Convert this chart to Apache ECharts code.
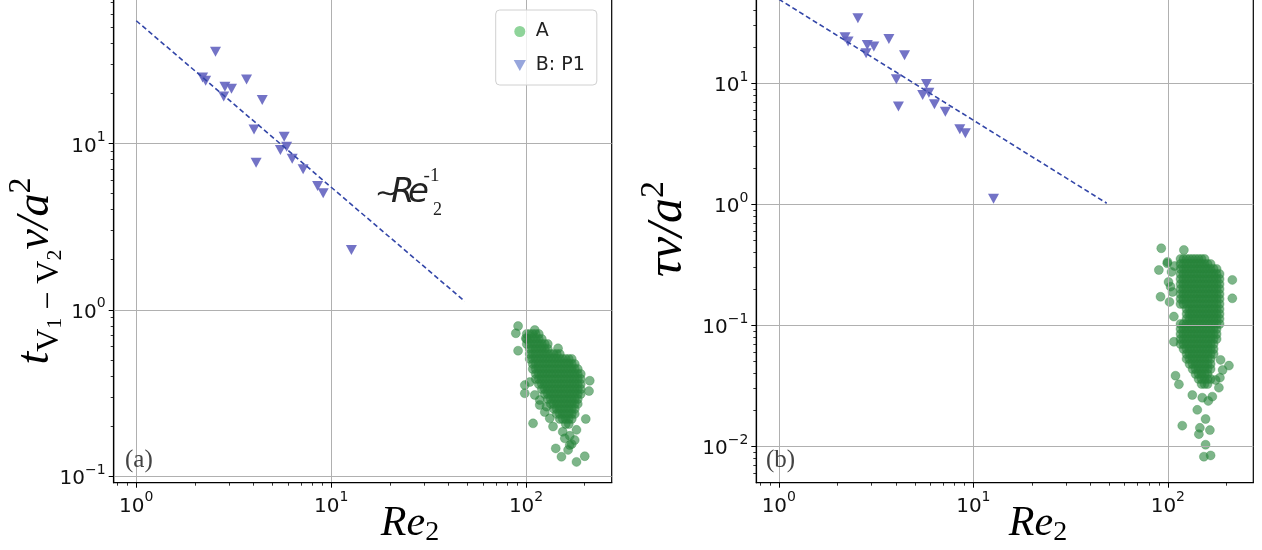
<!DOCTYPE html>
<html>
<head>
<meta charset="utf-8">
<script src="https://cdn.jsdelivr.net/npm/echarts@6/dist/echarts.min.js"></script>
<style>
  html, body { margin: 0; padding: 0; background: #fff; }
  #chart { width: 1262px; height: 550px; }
</style>
</head>
<body>
<div id="chart"></div>
<script>
// axis ranges (log axes) and tick positions
var xRange = [0.766, 275];
var yRangeA = [0.0915, 75.7];
var yRangeB = [0.005, 51.6];
var xMajor = [1, 10, 100];
var xMinor = [0.8, 0.9, 2, 3, 4, 5, 6, 7, 8, 9, 20, 30, 40, 50, 60, 70, 80, 90, 200];
var yMajorA = [0.1, 1, 10];
var yMinorA = [0.2, 0.3, 0.4, 0.5, 0.6, 0.7, 0.8, 0.9, 2, 3, 4, 5, 6, 7, 8, 9, 20, 30, 40, 50, 60, 70];
var yMajorB = [0.01, 0.1, 1, 10];
var yMinorB = [0.006, 0.007, 0.008, 0.009, 0.02, 0.03, 0.04, 0.05, 0.06, 0.07, 0.08, 0.09,
  0.2, 0.3, 0.4, 0.5, 0.6, 0.7, 0.8, 0.9, 2, 3, 4, 5, 6, 7, 8, 9, 20, 30, 40, 50];

// B: P1 (triangles), same Re2 in both panels
var bRe = [2.55, 2.19, 2.27, 2.85, 3.08, 2.81, 3.68, 4.43, 4.02, 5.74, 5.91, 5.49, 4.12, 6.31, 7.18, 8.52, 9.10, 12.7];
var bLeft = [35.5, 24.9, 23.8, 21.9, 21.3, 19.1, 24.2, 18.2, 12.1, 10.96, 9.55, 9.12, 7.64, 8.08, 6.98, 5.54, 5.01, 2.29];
var bRight = [34.4, 24.0, 22.1, 20.7, 20.1, 17.7, 23.2, 17.0, 10.8, 9.87, 8.36, 8.0, 6.41, 6.70, 5.82, 4.17, 3.86, 1.11];

// ~Re^-1 guide lines
var fitRe = [1, 48.5];
var fitLeft = [54.5, 1.124];
var fitRight = [49.5, 1.02];

// A, left panel: dense part read row by row as [y, [Re2 values]]
var aLeftRows = [
  [0.716, [100.8, 104.4, 108.2, 112.1, 116.2]],
  [0.668, [100.8, 104.4, 108.2, 112.1, 116.2, 120.4]],
  [0.623, [100.8, 104.4, 108.2, 112.1, 116.2, 120.4, 124.7]],
  [0.582, [104.4, 108.2, 112.1, 116.2, 120.4, 124.7, 129.2]],
  [0.543, [104.4, 108.2, 112.1, 116.2, 120.4, 124.7, 129.2, 133.9, 138.7, 143.7, 148.9]],
  [0.507, [104.4, 108.2, 112.1, 116.2, 120.4, 124.7, 129.2, 133.9, 138.7, 143.7, 148.9, 154.2, 159.8, 165.6, 171.5]],
  [0.473, [108.2, 112.1, 116.2, 120.4, 124.7, 129.2, 133.9, 138.7, 143.7, 148.9, 154.2, 159.8, 165.6, 171.5, 177.7]],
  [0.441, [108.2, 112.1, 116.2, 120.4, 124.7, 129.2, 133.9, 138.7, 143.7, 148.9, 154.2, 159.8, 165.6, 171.5, 177.7, 184.1]],
  [0.412, [112.1, 116.2, 120.4, 124.7, 129.2, 133.9, 138.7, 143.7, 148.9, 154.2, 159.8, 165.6, 171.5, 177.7, 184.1, 190.8]],
  [0.384, [112.1, 116.2, 120.4, 124.7, 129.2, 133.9, 138.7, 143.7, 148.9, 154.2, 159.8, 165.6, 171.5, 177.7, 184.1, 190.8]],
  [0.358, [116.2, 120.4, 124.7, 129.2, 133.9, 138.7, 143.7, 148.9, 154.2, 159.8, 165.6, 171.5, 177.7, 184.1, 190.8]],
  [0.334, [120.4, 124.7, 129.2, 133.9, 138.7, 143.7, 148.9, 154.2, 159.8, 165.6, 171.5, 177.7, 184.1, 190.8]],
  [0.312, [124.7, 129.2, 133.9, 138.7, 143.7, 148.9, 154.2, 159.8, 165.6, 171.5, 177.7, 184.1, 190.8]],
  [0.291, [129.2, 133.9, 138.7, 143.7, 148.9, 154.2, 159.8, 165.6, 171.5, 177.7, 184.1]],
  [0.272, [133.9, 138.7, 143.7, 148.9, 154.2, 159.8, 165.6, 171.5, 177.7, 184.1]],
  [0.254, [138.7, 143.7, 148.9, 154.2, 159.8, 165.6, 171.5, 177.7]],
  [0.237, [143.7, 148.9, 154.2, 159.8, 165.6, 171.5, 177.7]],
  [0.221, [148.9, 154.2, 159.8, 165.6, 171.5]],
  [0.206, [159.8, 165.6]]
];
// A, left panel: loose points round the edge [Re2, y]
var aLeftLoose = [
  [91.0, 0.799], [88.6, 0.723], [99.7, 0.674], [110.8, 0.756], [91.0, 0.568], [145.9, 0.587],
  [212.2, 0.375], [210.4, 0.325], [98.5, 0.353], [98.5, 0.315], [117.5, 0.287], [127.2, 0.262],
  [108.6, 0.208], [132.3, 0.223], [137.5, 0.199], [202.4, 0.221], [181.4, 0.190], [177.7, 0.165],
  [142.0, 0.147], [151.9, 0.131], [164.3, 0.144], [181.4, 0.122], [200.0, 0.132], [158.0, 0.169],
  [167.5, 0.154], [154.2, 0.185], [167.5, 0.175], [171.5, 0.156], [104.4, 0.368], [110.8, 0.308],
  [117.5, 0.268], [124.7, 0.243], [129.2, 0.623]
];

// A, right panel: dense part [y, [Re2 values]]
var aRightRows = [
  [0.353, [116.2, 120.4, 124.8, 129.3, 134.0, 138.8, 143.9, 149.1, 154.5]],
  [0.321, [116.2, 120.4, 124.8, 129.3, 134.0, 138.8, 143.9, 149.1, 154.5, 160.1, 165.9]],
  [0.292, [116.2, 120.4, 124.8, 129.3, 134.0, 138.8, 143.9, 149.1, 154.5, 160.1, 165.9, 171.9, 178.1]],
  [0.265, [116.2, 120.4, 124.8, 129.3, 134.0, 138.8, 143.9, 149.1, 154.5, 160.1, 165.9, 171.9, 178.1, 184.5]],
  [0.241, [116.2, 120.4, 124.8, 129.3, 134.0, 138.8, 143.9, 149.1, 154.5, 160.1, 165.9, 171.9, 178.1, 184.5]],
  [0.219, [116.2, 120.4, 124.8, 129.3, 134.0, 138.8, 143.9, 149.1, 154.5, 160.1, 165.9, 171.9, 178.1, 184.5]],
  [0.1995, [116.2, 120.4, 124.8, 129.3, 134.0, 138.8, 143.9, 149.1, 154.5, 160.1, 165.9, 171.9, 178.1, 184.5]],
  [0.181, [116.2, 120.4, 124.8, 129.3, 134.0, 138.8, 143.9, 149.1, 154.5, 160.1, 165.9, 171.9, 178.1, 184.5]],
  [0.165, [116.2, 120.4, 124.8, 129.3, 134.0, 138.8, 143.9, 149.1, 154.5, 160.1, 165.9, 171.9, 178.1, 184.5]],
  [0.150, [116.2, 120.4, 124.8, 129.3, 134.0, 138.8, 143.9, 149.1, 154.5, 160.1, 165.9, 171.9, 178.1, 184.5]],
  [0.136, [124.8, 129.3, 134.0, 138.8, 143.9, 149.1, 154.5, 160.1, 165.9, 171.9, 178.1, 184.5]],
  [0.124, [124.8, 129.3, 134.0, 138.8, 143.9, 149.1, 154.5, 160.1, 165.9, 171.9, 178.1, 184.5]],
  [0.113, [124.8, 129.3, 134.0, 138.8, 143.9, 149.1, 154.5, 160.1, 165.9, 171.9, 178.1, 184.5]],
  [0.1025, [116.2, 120.4, 124.8, 129.3, 134.0, 138.8, 143.9, 149.1, 154.5, 160.1, 165.9, 171.9, 178.1, 184.5]],
  [0.0932, [116.2, 120.4, 124.8, 129.3, 134.0, 138.8, 143.9, 149.1, 154.5, 160.1, 165.9, 171.9, 178.1]],
  [0.0847, [116.2, 120.4, 124.8, 129.3, 134.0, 138.8, 143.9, 149.1, 154.5, 160.1, 165.9, 171.9, 178.1]],
  [0.077, [116.2, 120.4, 124.8, 129.3, 134.0, 138.8, 143.9, 149.1, 154.5, 160.1, 165.9, 171.9, 178.1]],
  [0.070, [116.2, 120.4, 124.8, 129.3, 134.0, 138.8, 143.9, 149.1, 154.5, 160.1, 165.9, 171.9]],
  [0.0637, [120.4, 124.8, 129.3, 134.0, 138.8, 143.9, 149.1, 154.5, 160.1, 165.9, 171.9]],
  [0.0579, [124.8, 129.3, 134.0, 138.8, 143.9, 149.1, 154.5, 160.1, 165.9, 171.9]],
  [0.0527, [124.8, 129.3, 134.0, 138.8, 143.9, 149.1, 154.5, 160.1, 165.9]],
  [0.0479, [129.3, 134.0, 138.8, 143.9, 149.1, 154.5, 160.1, 165.9]],
  [0.0435, [134.0, 138.8, 143.9, 149.1, 154.5, 160.1, 165.9]],
  [0.0396, [138.8, 143.9, 149.1, 154.5, 160.1]],
  [0.036, [143.9, 149.1, 154.5, 160.1, 165.9]],
  [0.0327, [149.1, 154.5, 160.1]]
];
// A, right panel: loose points [Re2, y]
var aRightLoose = [
  [92.5, 0.433], [120.9, 0.419], [89.9, 0.286], [91.7, 0.172], [107.4, 0.118], [107.4, 0.073],
  [214.5, 0.237], [214.5, 0.167], [206.1, 0.0464], [185.2, 0.0369], [183.0, 0.0305], [109.5, 0.0383],
  [114.0, 0.0325], [133.6, 0.0265], [150.3, 0.0252], [169.3, 0.0257], [161.4, 0.0237], [141.7, 0.0200],
  [156.3, 0.0168], [118.6, 0.0148], [146.1, 0.0142], [164.5, 0.0136], [144.4, 0.0126], [156.3, 0.0103],
  [153.2, 0.0082], [165.9, 0.0084], [99.3, 0.325], [103.3, 0.2085], [99.6, 0.334], [104.5, 0.276],
  [100.8, 0.228], [105.7, 0.1885], [102.0, 0.156], [108.3, 0.309], [186.7, 0.0517], [191.2, 0.0427],
  [176.0, 0.0353]
];

var GREEN = '#27843a';
var PURPLE = '#6464c0';
var GRIDC = '#b0b0b0';
var mathFont = 'Liberation Serif';

var tickRich = {
  b: { fontFamily: 'DejaVu Sans', fontSize: 20, color: '#111', lineHeight: 26, verticalAlign: 'bottom' },
  s: { fontFamily: 'DejaVu Sans', fontSize: 14, color: '#111', lineHeight: 14, verticalAlign: 'top' }
};

function powLabel(v) {
  var e = Math.round(Math.log10(v));
  return '{b|10}{s|' + (e < 0 ? '\u2212' + (-e) : e) + '}';
}

function zipPairs(xs, ys) {
  return xs.map(function (x, i) { return [x, ys[i]]; });
}

function cloud(rows, loose) {
  var out = [];
  rows.forEach(function (r) {
    r[1].forEach(function (x) { out.push([x, r[0]]); });
  });
  return out.concat(loose);
}

// main axis: line, major ticks, labels, grid lines
function mainAxis(gi, range, majors) {
  return {
    type: 'log', logBase: 10, gridIndex: gi, min: range[0], max: range[1], z: 3,
    axisLine: { show: true, onZero: false, lineStyle: { color: '#000', width: 1.2 } },
    axisTick: { show: true, length: 5, customValues: majors, lineStyle: { color: '#000', width: 1 } },
    axisLabel: { customValues: majors, formatter: powLabel, rich: tickRich, margin: 8 },
    splitLine: { show: true, lineStyle: { color: GRIDC, width: 1 } },
    minorTick: { show: false }, minorSplitLine: { show: false }
  };
}
// second axis on the same side, only for the minor ticks
function minorAxis(gi, range, minors, pos) {
  return {
    type: 'log', logBase: 10, gridIndex: gi, min: range[0], max: range[1], position: pos, z: 3,
    axisLine: { show: false },
    axisTick: { show: true, length: 3, customValues: minors, lineStyle: { color: '#000', width: 0.8 } },
    axisLabel: { show: false },
    splitLine: { show: false }
  };
}

function aSeries(ax, data) {
  return { name: 'A', type: 'scatter', xAxisIndex: ax, yAxisIndex: ax, z: 2, symbol: 'circle', symbolSize: 9,
    itemStyle: { color: GREEN, opacity: 0.6, borderColor: GREEN, borderWidth: 0.5 }, data: data };
}
function bSeries(ax, data) {
  return { name: 'B: P1', type: 'scatter', xAxisIndex: ax, yAxisIndex: ax, z: 4, symbol: 'triangle', symbolRotate: 180,
    symbolSize: [11, 10], itemStyle: { color: PURPLE, opacity: 0.9 }, data: data };
}
function fitSeries(ax, data) {
  return { name: 'fit' + ax, type: 'line', xAxisIndex: ax, yAxisIndex: ax, z: 5, symbol: 'none', silent: true,
    lineStyle: { color: '#3346a8', width: 1.6, type: [5, 3] }, data: data };
}

var chart = echarts.init(document.getElementById('chart'));

chart.setOption({
  animation: false,
  backgroundColor: '#fff',
  grid: [
    { left: 113.7, top: -3, width: 498, height: 485.7, show: true, borderColor: '#000', borderWidth: 1.2, outerBoundsMode: 'none' },
    { left: 756.3, top: -3, width: 497, height: 485.7, show: true, borderColor: '#000', borderWidth: 1.2, outerBoundsMode: 'none' }
  ],
  xAxis: [
    mainAxis(0, xRange, xMajor), minorAxis(0, xRange, xMinor, 'bottom'),
    mainAxis(1, xRange, xMajor), minorAxis(1, xRange, xMinor, 'bottom')
  ],
  yAxis: [
    mainAxis(0, yRangeA, yMajorA), minorAxis(0, yRangeA, yMinorA, 'left'),
    mainAxis(1, yRangeB, yMajorB), minorAxis(1, yRangeB, yMinorB, 'left')
  ],
  legend: {
    left: 495.7, top: 10, orient: 'vertical', z: 10,
    backgroundColor: 'rgba(255,255,255,0.8)', borderColor: '#d0d0d0', borderWidth: 1, borderRadius: 4,
    padding: [12, 12, 10, 18], itemGap: 15, itemWidth: 22, itemHeight: 11,
    textStyle: { fontFamily: 'DejaVu Sans', fontSize: 19, color: '#222' },
    data: [
      { name: 'A', icon: 'circle', itemStyle: { color: '#8fd49a', opacity: 1, borderWidth: 0 } },
      { name: 'B: P1', icon: 'path://M0,0 L10,0 L5,9 Z', itemStyle: { color: '#97a6dc', opacity: 1, borderWidth: 0 } }
    ]
  },
  series: [
    aSeries(0, cloud(aLeftRows, aLeftLoose)),
    bSeries(0, zipPairs(bRe, bLeft)),
    fitSeries(0, zipPairs(fitRe, fitLeft)),
    aSeries(2, cloud(aRightRows, aRightLoose)),
    bSeries(2, zipPairs(bRe, bRight)),
    fitSeries(2, zipPairs(fitRe, fitRight))
  ],
  graphic: [
    // y label, left panel
    { type: 'text', x: 36, y: 271, rotation: Math.PI / 2, z: 10,
      style: { text: '{m|t}{v|V}{w|1}{v| \u2212 V}{w|2}{m|\u03bd/a}{p|2}', align: 'center', verticalAlign: 'middle',
        rich: {
          m: { fontFamily: mathFont, fontStyle: 'italic', fontSize: 46, lineHeight: 60, fill: '#000' },
          v: { fontFamily: mathFont, fontSize: 32, lineHeight: 36, verticalAlign: 'bottom', fill: '#000' },
          w: { fontFamily: mathFont, fontSize: 22, lineHeight: 23, verticalAlign: 'bottom', fill: '#000' },
          p: { fontFamily: mathFont, fontSize: 32, lineHeight: 34, verticalAlign: 'top', fill: '#000' }
        } } },
    // y label, right panel
    { type: 'text', x: 668, y: 229, rotation: Math.PI / 2, z: 10,
      style: { text: '{m|\u03c4\u03bd/a}{p|2}', align: 'center', verticalAlign: 'middle',
        rich: {
          m: { fontFamily: mathFont, fontStyle: 'italic', fontSize: 50, lineHeight: 62, fill: '#000' },
          p: { fontFamily: mathFont, fontSize: 34, lineHeight: 36, verticalAlign: 'top', fill: '#000' }
        } } },
    // x labels
    { type: 'text', x: 410, y: 524, z: 10,
      style: { text: '{m|Re}{s|2}', align: 'center', verticalAlign: 'middle',
        rich: {
          m: { fontFamily: mathFont, fontStyle: 'italic', fontSize: 42, lineHeight: 46, fill: '#000' },
          s: { fontFamily: mathFont, fontSize: 28, lineHeight: 36, verticalAlign: 'bottom', fill: '#000' }
        } } },
    { type: 'text', x: 1038, y: 524, z: 10,
      style: { text: '{m|Re}{s|2}', align: 'center', verticalAlign: 'middle',
        rich: {
          m: { fontFamily: mathFont, fontStyle: 'italic', fontSize: 42, lineHeight: 46, fill: '#000' },
          s: { fontFamily: mathFont, fontSize: 28, lineHeight: 36, verticalAlign: 'bottom', fill: '#000' }
        } } },
    // panel tags
    { type: 'text', x: 125, y: 460, z: 10,
      style: { text: '(a)', fontFamily: mathFont, fontSize: 25, fill: '#444', verticalAlign: 'middle' } },
    { type: 'text', x: 766, y: 460, z: 10,
      style: { text: '(b)', fontFamily: mathFont, fontSize: 25, fill: '#444', verticalAlign: 'middle' } },
    // slope annotation  ~Re_2^-1
    { type: 'text', x: 375, y: 195, z: 10,
      style: { text: '\u223c', fontFamily: 'DejaVu Sans', fontSize: 27, fill: '#222', verticalAlign: 'middle' } },
    { type: 'text', x: 391, y: 193, z: 10,
      style: { text: 'R', fontFamily: 'DejaVu Sans', fontStyle: 'italic', fontSize: 34, fill: '#222', verticalAlign: 'middle' } },
    { type: 'text', x: 408, y: 193, z: 10,
      style: { text: 'e', fontFamily: 'DejaVu Sans', fontStyle: 'italic', fontSize: 34, fill: '#222', verticalAlign: 'middle' } },
    { type: 'text', x: 431.5, y: 176, z: 10,
      style: { text: '-1', fontFamily: mathFont, fontSize: 19, fill: '#222', align: 'center', verticalAlign: 'middle' } },
    { type: 'text', x: 437.5, y: 210, z: 10,
      style: { text: '2', fontFamily: mathFont, fontSize: 18, fill: '#222', align: 'center', verticalAlign: 'middle' } }
  ]
});
</script>
</body>
</html>
